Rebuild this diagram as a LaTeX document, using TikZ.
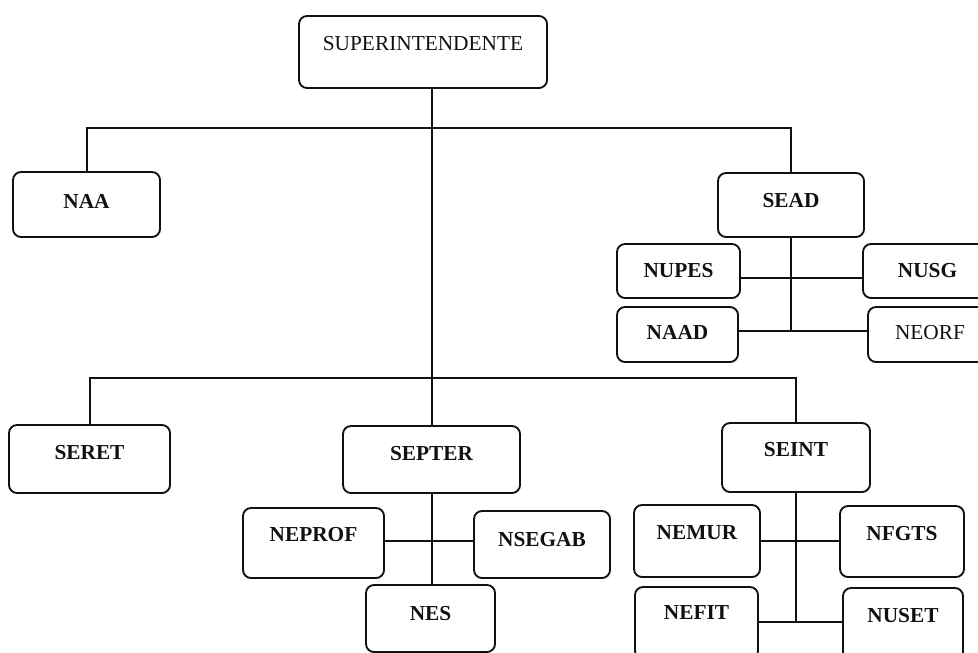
\documentclass[tikz,border=0pt]{standalone}
\usepackage{fontspec}
\setmainfont{Liberation Serif}
\usepackage{tikz}
\definecolor{inkblack}{HTML}{111111}

\begin{document}
\begin{tikzpicture}[x=0.75pt, y=-0.75pt,
  orgbox/.style={draw=inkblack, line width=1.4pt, rounded corners=6pt, inner sep=0pt, align=center, text=inkblack},
  orgline/.style={draw=inkblack, line width=1.5pt}]
\clip (0,0) rectangle (978,653);
% Units of the chart: name / left / top / right / bottom / baseline / weight / label
\foreach \nm/\xa/\ya/\xb/\yb/\bl/\fnt/\txt in {
  sup/299/16/547/88/50/\mdseries/SUPERINTENDENTE,
  naa/13/172/160/237/208/\bfseries/NAA,
  sead/718/173/864/237/207/\bfseries/SEAD,
  nupes/617/244/740/298/277/\bfseries/NUPES,
  nusg/863/244/992/298/277/\bfseries/NUSG,
  naad/617/307/738/362/339/\bfseries/NAAD,
  neorf/868/307/992/362/339/\mdseries/NEORF,
  seret/9/425/170/493/459/\bfseries/SERET,
  septer/343/426/520/493/460/\bfseries/SEPTER,
  seint/722/423/870/492/456/\bfseries/SEINT,
  neprof/243/508/384/578/541/\bfseries/NEPROF,
  nsegab/474/511/610/578/546/\bfseries/NSEGAB,
  nes/366/585/495/652/620/\bfseries/NES,
  nemur/634/505/760/577/539/\bfseries/NEMUR,
  nfgts/840/506/964/577/540/\bfseries/NFGTS,
  nefit/635/587/758/659/619/\bfseries/NEFIT,
  nuset/843/588/963/660/622/\bfseries/NUSET}{
  \pgfmathsetmacro\txth{(\bl-\ya)*0.75}
  \pgfmathsetmacro\txtd{(\yb-\bl)*0.75}
  \pgfmathsetmacro\boxw{(\xb-\xa)*0.75}
  \node[orgbox, minimum width=\boxw pt, text height=\txth pt, text depth=\txtd pt,
        font={\fontsize{16}{19}\selectfont\fnt}]
        (\nm) at ({(\xa+\xb)/2},{(\ya+\yb)/2}) {\txt};
}
% Levels of the horizontal rules
\coordinate (bustop) at (0,128);
\coordinate (busmid) at (0,378);
\coordinate (seadrowa) at (0,278);
\coordinate (seadrowb) at (0,331);
\coordinate (septerrow) at (0,541);
\coordinate (seintrowa) at (0,541);
\coordinate (seintrowb) at (0,622);
% Main trunk and the two buses
\draw[orgline] (sup.south -| septer.north) -- (septer.north);
\draw[orgline] (naa.north) |- (bustop -| sead.north) -- (sead.north);
\draw[orgline] (seret.north) |- (busmid -| seint.north) -- (seint.north);
% SEAD branch
\draw[orgline] (sead.south) -- (sead.south |- seadrowb);
\draw[orgline] (nupes.east |- seadrowa) -- (nusg.west |- seadrowa);
\draw[orgline] (naad.east |- seadrowb) -- (neorf.west |- seadrowb);
% SEPTER branch
\draw[orgline] (septer.south) -- (septer.south |- nes.north);
\draw[orgline] (neprof.east |- septerrow) -- (nsegab.west |- septerrow);
% SEINT branch
\draw[orgline] (seint.south) -- (seint.south |- seintrowb);
\draw[orgline] (nemur.east |- seintrowa) -- (nfgts.west |- seintrowa);
\draw[orgline] (nefit.east |- seintrowb) -- (nuset.west |- seintrowb);
\end{tikzpicture}
\end{document}
